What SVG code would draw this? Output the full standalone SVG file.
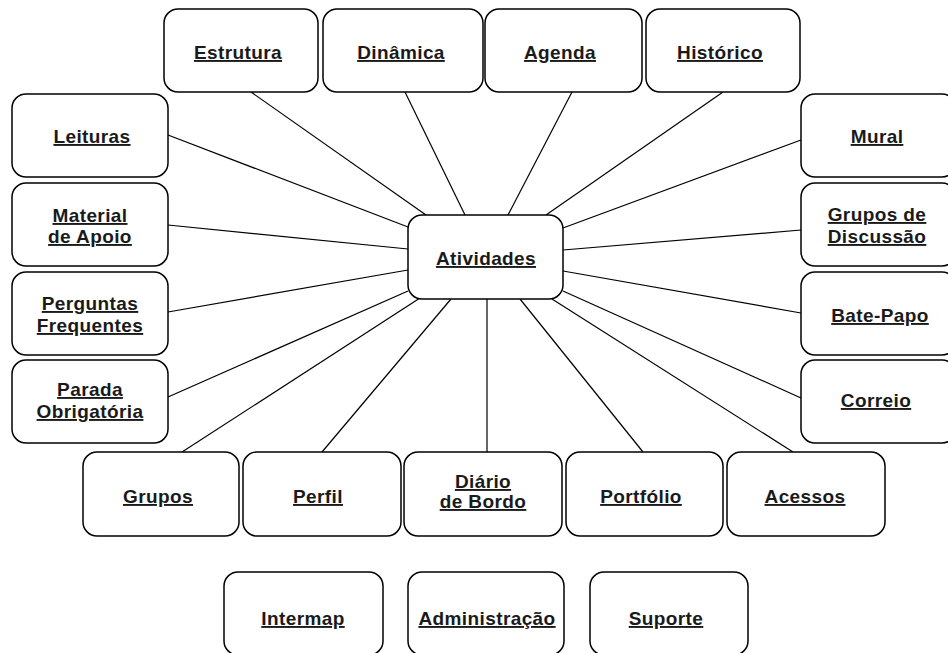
<svg xmlns="http://www.w3.org/2000/svg" width="948" height="653" viewBox="0 0 948 653">
<style>
.box{fill:#fff;stroke:#000;stroke-width:1.5}
.lbl{font-family:"Liberation Sans",Arial,Helvetica,sans-serif;font-weight:bold;font-size:19px;fill:#1a1a1a;text-anchor:middle;text-decoration:underline;text-underline-offset:3px;letter-spacing:0.4px}
.edge{stroke:#000;stroke-width:1.2;fill:none}
</style>
<rect width="948" height="653" fill="#fff"/>
<g id="connectors">
<line class="edge" x1="251" y1="92" x2="426" y2="215"/>
<line class="edge" x1="405" y1="92" x2="465" y2="215"/>
<line class="edge" x1="572" y1="92" x2="508" y2="215"/>
<line class="edge" x1="723" y1="92" x2="546" y2="215"/>
<line class="edge" x1="168" y1="135" x2="408" y2="227"/>
<line class="edge" x1="168" y1="225" x2="408" y2="249"/>
<line class="edge" x1="168" y1="312" x2="408" y2="270"/>
<line class="edge" x1="168" y1="397" x2="408" y2="291"/>
<line class="edge" x1="182" y1="452" x2="420" y2="298"/>
<line class="edge" x1="322" y1="452" x2="451" y2="299"/>
<line class="edge" x1="487" y1="452" x2="487" y2="299"/>
<line class="edge" x1="643" y1="452" x2="520" y2="299"/>
<line class="edge" x1="793" y1="452" x2="552" y2="299"/>
<line class="edge" x1="801" y1="140" x2="563" y2="228"/>
<line class="edge" x1="801" y1="230" x2="563" y2="250"/>
<line class="edge" x1="801" y1="313" x2="563" y2="271"/>
<line class="edge" x1="801" y1="398" x2="563" y2="291"/>
</g>
<g id="atividades"><rect class="box" x="408" y="215" width="155" height="84" rx="14"/><text class="lbl" x="486" y="265">Atividades</text></g>
<g id="estrutura"><rect class="box" x="164" y="9" width="154" height="83" rx="14"/><text class="lbl" x="238" y="59">Estrutura</text></g>
<g id="dinamica"><rect class="box" x="323" y="9" width="160" height="83" rx="14"/><text class="lbl" x="401" y="59">Dinâmica</text></g>
<g id="agenda"><rect class="box" x="485" y="9" width="157" height="83" rx="14"/><text class="lbl" x="560" y="59">Agenda</text></g>
<g id="historico"><rect class="box" x="646" y="9" width="154" height="83" rx="14"/><text class="lbl" x="720" y="59">Histórico</text></g>
<g id="leituras"><rect class="box" x="12" y="94" width="156" height="83" rx="14"/><text class="lbl" x="92" y="143">Leituras</text></g>
<g id="material"><rect class="box" x="12" y="183" width="156" height="83" rx="14"/><text class="lbl" x="90" y="222">Material</text><text class="lbl" x="90" y="243">de Apoio</text></g>
<g id="perguntas"><rect class="box" x="12" y="272" width="156" height="83" rx="14"/><text class="lbl" x="90" y="310">Perguntas</text><text class="lbl" x="90" y="332">Frequentes</text></g>
<g id="parada"><rect class="box" x="12" y="360" width="156" height="83" rx="14"/><text class="lbl" x="90" y="396">Parada</text><text class="lbl" x="90" y="418">Obrigatória</text></g>
<g id="mural"><rect class="box" x="801" y="94" width="155" height="83" rx="14"/><text class="lbl" x="877" y="143">Mural</text></g>
<g id="grupos-discussao"><rect class="box" x="801" y="183" width="155" height="83" rx="14"/><text class="lbl" x="877" y="221">Grupos de</text><text class="lbl" x="877" y="243">Discussão</text></g>
<g id="bate-papo"><rect class="box" x="801" y="272" width="155" height="83" rx="14"/><text class="lbl" x="880" y="322">Bate-Papo</text></g>
<g id="correio"><rect class="box" x="801" y="360" width="155" height="83" rx="14"/><text class="lbl" x="876" y="407">Correio</text></g>
<g id="grupos"><rect class="box" x="83" y="452" width="156" height="84" rx="14"/><text class="lbl" x="158" y="503">Grupos</text></g>
<g id="perfil"><rect class="box" x="243" y="452" width="158" height="84" rx="14"/><text class="lbl" x="318" y="503">Perfil</text></g>
<g id="diario"><rect class="box" x="404" y="452" width="158" height="84" rx="14"/><text class="lbl" x="483" y="488">Diário</text><text class="lbl" x="483" y="508">de Bordo</text></g>
<g id="portfolio"><rect class="box" x="566" y="452" width="157" height="84" rx="14"/><text class="lbl" x="641" y="503">Portfólio</text></g>
<g id="acessos"><rect class="box" x="727" y="452" width="158" height="84" rx="14"/><text class="lbl" x="805" y="503">Acessos</text></g>
<g id="intermap"><rect class="box" x="224" y="572" width="159" height="83" rx="14"/><text class="lbl" x="303" y="625">Intermap</text></g>
<g id="administracao"><rect class="box" x="408" y="572" width="156" height="83" rx="14"/><text class="lbl" x="487" y="625">Administração</text></g>
<g id="suporte"><rect class="box" x="590" y="572" width="158" height="83" rx="14"/><text class="lbl" x="666" y="625">Suporte</text></g>
</svg>
